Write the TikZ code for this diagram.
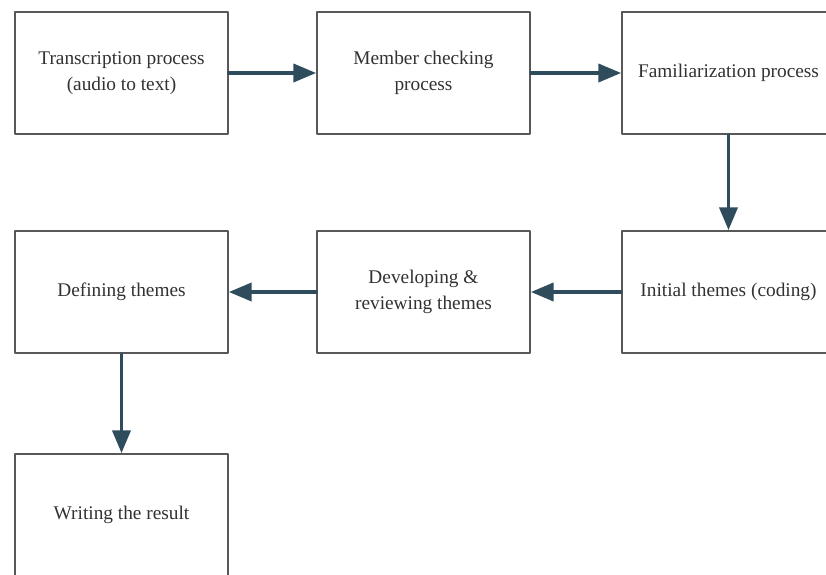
\documentclass[tikz,border=0pt]{standalone}
\usepackage{fontspec}
\setmainfont{Liberation Serif}
\usetikzlibrary{arrows}
\definecolor{boxline}{RGB}{88,88,88}
\definecolor{flowline}{RGB}{47,76,92}
\definecolor{boxtext}{RGB}{50,50,50}
\tikzset{
	stepbox/.style={draw=boxline,line width=1.3pt,fill=white,minimum width=4.26cm,minimum height=2.44cm,
		align=center,text=boxtext,font=\fontsize{11}{14.5}\selectfont,inner sep=0pt},
	flow/.style={->,draw=flowline,line width=2pt}
}

\begin{document}
\begin{tikzpicture}[line cap=round,line join=round,>=triangle 45,x=0.02cm,y=-0.02cm]
		\useasboundingbox (0,0) rectangle (826,575);
		\clip (0,0) rectangle (826,575);
		% first row
		\node[stepbox] (trans) at (121.5,73) {Transcription process\\(audio to text)};
		\node[stepbox] (member) at (423.5,73) {Member checking\\process};
		\node[stepbox] (famil) at (728.5,73) {Familiarization process};
		% second row
		\node[stepbox] (initial) at (728.5,292) {Initial themes (coding)};
		\node[stepbox] (develop) at (423.5,292) {Developing \&\\reviewing themes};
		\node[stepbox] (define) at (121.5,292) {Defining themes};
		% last one
		\node[stepbox] (writing) at (121.5,515) {Writing the result};
		\draw[flow] (trans.east) -- (member.west);
		\draw[flow] (member.east) -- (famil.west);
		\draw[flow] (famil.south) -- (initial.north);
		\draw[flow] (initial.west) -- (develop.east);
		\draw[flow] (develop.west) -- (define.east);
		\draw[flow] (define.south) -- (writing.north);
	\end{tikzpicture}
\end{document}
